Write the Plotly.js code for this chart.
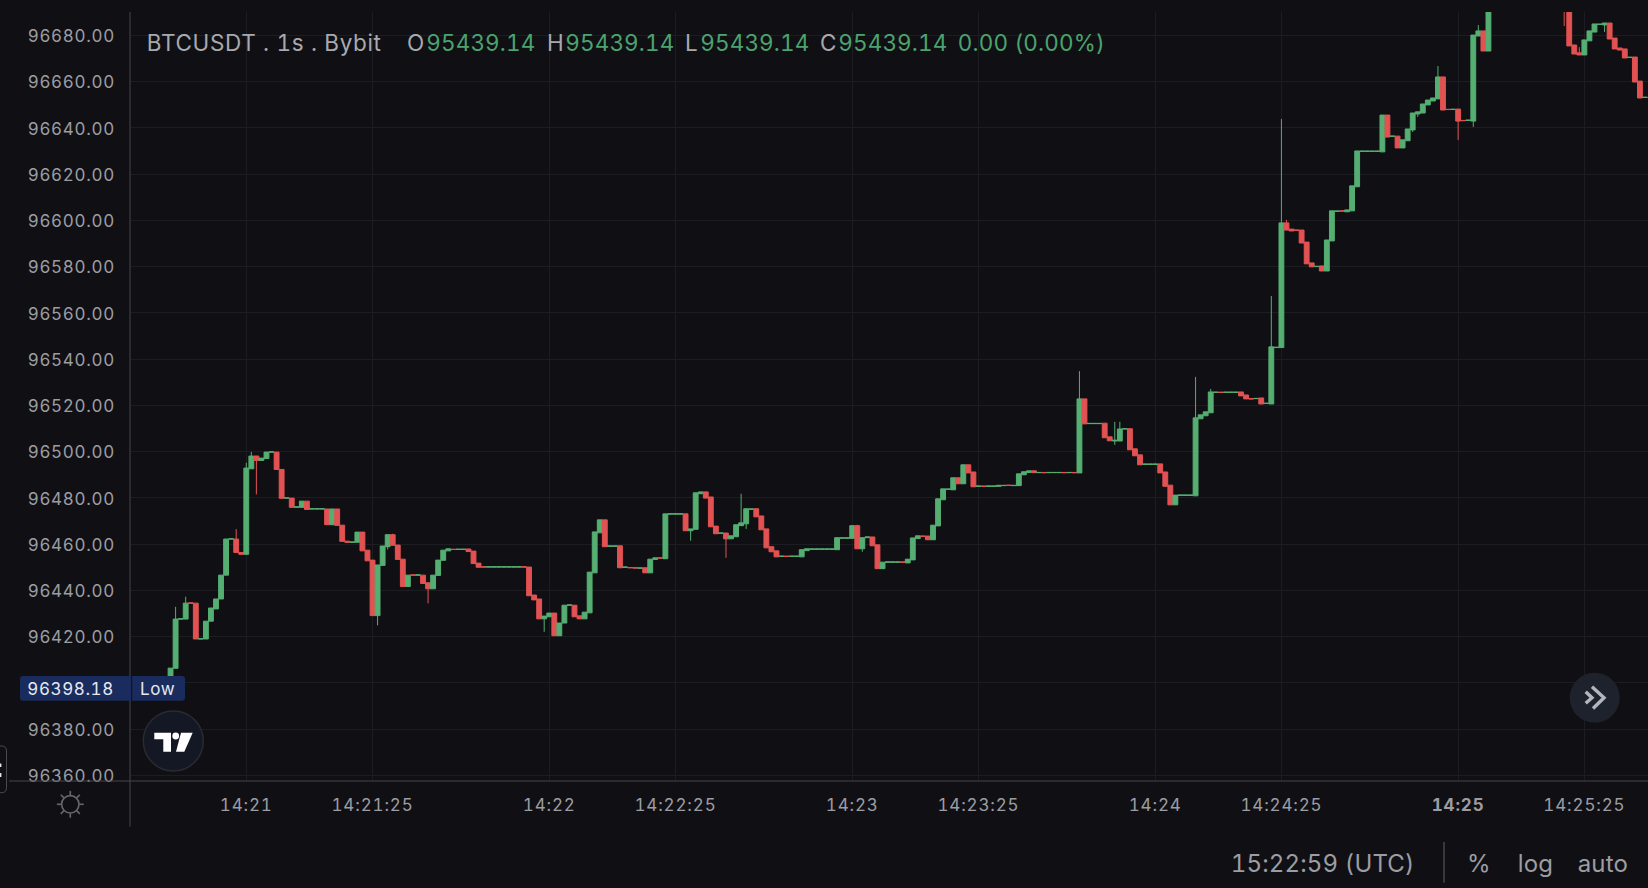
<!DOCTYPE html>
<html>
<head>
<meta charset="utf-8">
<script src="https://cdn.plot.ly/plotly-3.0.1.min.js"></script>
<style>
html,body{margin:0;padding:0;background:#101014;overflow:hidden}
#chart{width:1648px;height:888px}
#chart svg text{font-variant-numeric:tabular-nums;font-feature-settings:'tnum' 1;letter-spacing:.15px}
#chart svg .xtick text{letter-spacing:.85px}
#chart svg .ytick text{letter-spacing:.7px}
#chart svg g.ytick{transform:translateY(.8px)}
#chart svg .annotation[data-index="0"] text{letter-spacing:.65px}
#chart svg .annotation[data-index="10"] text,#chart svg .annotation[data-index="11"] text{letter-spacing:.6px}
</style>
</head>
<body>
<div id="chart"></div>
<script>
// Seconds after 14:21:00 for every visible candle
const seconds = [
-15,-14,-13,-12,-11,-10,-9,-8,-7,-6,
-5,-4,-3,-2,-1,0,1,2,3,4,
5,6,7,8,9,10,11,12,13,14,
15,16,17,18,19,20,21,22,23,24,
25,26,27,28,29,30,31,32,33,34,
35,36,37,38,39,40,41,42,43,44,
45,46,47,48,49,50,51,52,53,54,
55,56,57,58,59,60,61,62,63,64,
65,66,67,68,69,70,71,72,73,74,
75,76,77,78,79,80,81,82,83,84,
85,86,87,88,89,90,91,92,93,94,
95,96,97,98,99,100,101,102,103,104,
105,106,107,108,109,110,111,112,113,114,
115,116,117,118,119,120,121,122,123,124,
125,126,127,128,129,130,131,132,133,134,
135,136,137,138,139,140,141,142,143,144,
145,146,147,148,149,150,151,152,153,154,
155,156,157,158,159,160,161,162,163,164,
165,166,167,168,169,170,171,172,173,174,
175,176,177,178,179,180,181,182,183,184,
185,186,187,188,189,190,191,192,193,194,
195,196,197,198,199,200,201,202,203,204,
205,206,207,208,209,210,211,212,213,214,
215,216,217,218,219,220,221,222,223,224,
225,226,227,228,229,230,231,232,233,234,
235,236,237,238,239,240,241,242,243,244,
245,246,261,262,263,264,265,266,267,268,
269,270,271,272,273,274,275,276,277];

const opens = [
96398.18,96406.3,96427.6,96427.6,96434.6,96434.5,96419.0,96419.0,96426.7,96432.0,
96436.3,96446.6,96462.2,96462.2,96456.4,96455.6,96492.6,96498.1,96496.2,96497.0,
96499.8,96499.8,96492.3,96479.9,96479.9,96476.0,96475.9,96478.6,96475.2,96475.2,
96475.2,96475.2,96468.4,96475.2,96468.2,96461.3,96460.8,96460.8,96465.2,96457.4,
96453.1,96429.1,96450.8,96458.9,96464.1,96459.6,96453.5,96441.7,96446.7,96446.6,
96446.6,96443.3,96440.7,96446.5,96453.0,96457.1,96457.8,96457.7,96457.7,96457.9,
96457.0,96451.8,96450.2,96450.1,96450.1,96450.1,96450.1,96450.1,96450.1,96450.1,
96450.2,96450.1,96438.0,96436.3,96427.7,96428.6,96430.2,96420.4,96425.9,96433.6,
96433.6,96429.0,96427.7,96430.3,96447.6,96464.9,96470.5,96459.1,96459.1,96459.3,
96450.0,96449.9,96449.8,96449.6,96449.8,96447.6,96453.4,96454.1,96453.7,96473.0,
96473.0,96473.0,96473.1,96465.8,96466.4,96481.8,96482.6,96480.4,96467.8,96464.7,
96464.8,96462.3,96463.2,96468.0,96468.8,96475.1,96475.3,96472.2,96466.6,96458.9,
96457.1,96454.7,96454.8,96454.7,96454.7,96454.5,96457.2,96457.8,96457.8,96457.8,
96457.8,96457.8,96457.6,96462.6,96462.6,96462.5,96468.0,96458.0,96462.8,96463.1,
96459.7,96449.4,96452.2,96452.2,96452.2,96452.3,96451.9,96453.2,96462.4,96463.5,
96463.5,96461.9,96467.9,96479.2,96483.7,96483.5,96488.7,96486.1,96494.3,96491.2,
96485.0,96485.1,96485.0,96485.0,96485.0,96485.3,96485.5,96485.3,96485.3,96490.0,
96491.0,96491.7,96490.9,96491.0,96490.9,96490.9,96490.9,96491.0,96490.9,96491.0,
96490.8,96522.8,96512.1,96512.1,96512.1,96512.3,96506.4,96504.6,96504.6,96509.8,
96509.9,96501.2,96498.6,96494.5,96494.5,96494.5,96494.7,96491.2,96485.5,96477.0,
96481.1,96481.1,96481.1,96480.9,96514.2,96515.5,96516.8,96525.6,96525.7,96525.6,
96525.6,96525.6,96525.8,96524.5,96522.9,96522.9,96523.2,96520.8,96520.6,96545.0,
96545.0,96598.9,96596.2,96595.8,96595.8,96590.6,96581.6,96580.0,96580.3,96578.1,
96591.1,96603.9,96604.1,96603.7,96604.1,96614.5,96629.8,96629.8,96629.8,96629.8,
96629.6,96645.5,96636.3,96636.4,96631.3,96634.4,96639.1,96646.0,96646.4,96649.9,
96651.6,96652.5,96662.0,96648.0,96647.9,96648.1,96643.2,96643.2,96642.9,96679.7,
96681.9,96673.2,96708.0,96702.0,96675.8,96672.4,96671.5,96677.6,96681.4,96684.7,
96684.5,96685.3,96678.8,96674.5,96674.1,96670.4,96670.6,96660.2,96653.1];

const closes = [
96406.4,96427.6,96427.7,96434.5,96434.5,96419.0,96419.1,96426.7,96432.4,96436.3,
96446.6,96462.2,96462.3,96456.4,96455.6,96492.9,96498.1,96496.2,96497.2,96499.8,
96499.9,96492.3,96479.8,96480.0,96475.9,96476.1,96478.6,96475.0,96475.3,96475.3,
96475.3,96468.4,96475.2,96468.1,96461.2,96460.8,96460.9,96465.2,96457.1,96452.8,
96429.1,96451.0,96459.2,96464.1,96459.5,96453.4,96441.7,96446.6,96446.6,96446.7,
96443.0,96440.7,96446.6,96453.1,96457.4,96458.0,96457.7,96457.8,96457.8,96456.8,
96451.6,96450.0,96450.1,96450.2,96450.2,96450.2,96450.2,96450.2,96450.2,96450.2,
96450.1,96437.7,96435.9,96427.7,96428.9,96430.2,96420.4,96425.9,96433.6,96433.7,
96428.6,96427.7,96430.6,96447.9,96465.3,96470.5,96458.9,96459.2,96459.2,96449.8,
96450.1,96449.8,96449.7,96449.7,96447.6,96453.5,96454.1,96454.0,96473.1,96473.1,
96473.1,96473.1,96465.8,96466.6,96482.2,96482.6,96479.9,96467.5,96464.5,96464.8,
96462.3,96463.6,96468.4,96469.2,96475.3,96475.2,96471.8,96466.2,96458.4,96456.7,
96454.5,96454.8,96454.7,96454.8,96454.8,96457.6,96458.0,96457.9,96457.9,96457.9,
96457.9,96457.9,96462.8,96462.7,96462.7,96468.0,96458.0,96462.8,96463.1,96459.3,
96449.4,96452.2,96452.3,96452.3,96452.3,96452.2,96453.5,96462.7,96463.6,96463.4,
96461.9,96468.2,96479.6,96483.9,96483.8,96488.7,96486.1,96494.3,96490.8,96484.8,
96485.1,96485.0,96485.1,96485.1,96485.4,96485.4,96485.4,96485.4,96490.4,96491.3,
96491.7,96490.9,96491.0,96490.9,96491.0,96491.0,96491.0,96490.9,96491.0,96490.9,
96522.8,96512.0,96512.2,96512.2,96512.2,96506.0,96504.7,96504.9,96509.8,96509.9,
96500.8,96498.2,96494.3,96494.6,96494.6,96494.6,96490.8,96485.0,96477.0,96481.2,
96481.2,96481.2,96481.2,96514.6,96515.9,96517.2,96525.8,96525.7,96525.6,96525.7,
96525.7,96525.7,96524.1,96522.8,96522.8,96523.0,96520.6,96520.9,96545.3,96545.1,
96598.9,96595.8,96595.4,96595.7,96590.2,96581.2,96579.9,96580.1,96578.1,96591.5,
96604.1,96604.0,96604.0,96604.5,96614.9,96630.0,96629.9,96629.9,96629.9,96629.9,
96645.5,96636.0,96636.4,96631.3,96634.8,96639.5,96646.4,96646.9,96650.3,96652.0,
96652.9,96662.0,96647.7,96647.9,96648.0,96642.9,96643.1,96643.3,96680.1,96681.9,
96673.2,96702.0,96702.0,96675.4,96671.9,96671.5,96678.0,96681.9,96684.9,96684.8,
96685.3,96678.4,96674.1,96673.6,96670.2,96670.5,96659.8,96652.9,96653.2];

// Wicks that stick out of the candle body
const upperWickSeconds = [-14,-12,-2,0,1,29,98,121,165,172,173,188,191,203,205,206,236,244,264];
const upperWickValues  = [96432.9,96437.3,96466.5,96495.2,96499.9,96464.5,96481.8,96468.4,96534.8,96512.9,96512.9,96532.3,96527.1,96567.3,96643.8,96600.2,96666.7,96684.4,96674.9];
const lowerWickSeconds = [2,26,28,36,59,88,95,99,122,172,231,232,240,243,261,269];
const lowerWickValues  = [96481.5,96424.9,96457.7,96434.4,96422.1,96461.5,96454.1,96466.6,96456.7,96502.9,96638.2,96644.7,96634.7,96640.4,96684.0,96681.4];

const priceTicks = [96680,96660,96640,96620,96600,96580,96560,96540,96520,96500,96480,96460,96440,96420,96400,96380,96360];
const timeTickSeconds = [0,25,60,85,120,145,180,205,240,265];
const timeTickLabels = ['14:21','14:21:25','14:22','14:22:25','14:23','14:23:25','14:24','14:24:25','<b>14:25</b>','14:25:25'];
const lowPrice = '96398.18';

const BG='#101014', GRID='#1c1d22', AXIS='#44454a', TXT='#9c9da3', UP='#55ae72', DOWN='#e25252', OHLC='#4ba36f';
const baseMs = Date.UTC(2024,11,6,14,21,0);
const stamp = s => new Date(baseMs + s*1000).toISOString().slice(0,23).replace('T',' ');

const highs = seconds.map((s,i)=>{const k=upperWickSeconds.indexOf(s);return Math.max(opens[i],closes[i],k>=0?upperWickValues[k]:-Infinity);});
const lows  = seconds.map((s,i)=>{const k=lowerWickSeconds.indexOf(s);return Math.min(opens[i],closes[i],k>=0?lowerWickValues[k]:Infinity);});

// Page-pixel helpers for the interface furniture around the plot
const L=130,R=1648,T=12,B=781;
const px=x=>(x-L)/(R-L), py=y=>(B-y)/(B-T);
const P=(x,y)=>px(x)+','+py(y);
const poly=(pts,close)=>'M'+pts.map(p=>P(p[0],p[1])).join('L')+(close?'Z':'');
const rrect=(x0,y0,x1,y1,r)=>'M'+P(x0+r,y0)+'L'+P(x1-r,y0)+'Q'+P(x1,y0)+' '+P(x1,y0+r)+'L'+P(x1,y1-r)+'Q'+P(x1,y1)+' '+P(x1-r,y1)+'L'+P(x0+r,y1)+'Q'+P(x0,y1)+' '+P(x0,y1-r)+'L'+P(x0,y0+r)+'Q'+P(x0,y0)+' '+P(x0+r,y0)+'Z';
const pathShape=(path,fill,line,w)=>({type:'path',xref:'paper',yref:'paper',layer:'above',path,fillcolor:fill||'rgba(0,0,0,0)',line:{color:line||'rgba(0,0,0,0)',width:w||0}});
const circle=(cx,cy,r,fill,line,w)=>({type:'circle',xref:'paper',yref:'paper',layer:'above',x0:px(cx-r),x1:px(cx+r),y0:py(cy+r),y1:py(cy-r),fillcolor:fill||'rgba(0,0,0,0)',line:{color:line||'rgba(0,0,0,0)',width:w||0}});
const seg=(x0,y0,x1,y1,c,w)=>({type:'line',xref:'paper',yref:'paper',layer:'above',x0:px(x0),x1:px(x1),y0:py(y0),y1:py(y1),line:{color:c,width:w}});

const SX=70.3,SY=804.3,SC='#66676c';
const sunRays=[[0,-1],[0,1],[-1,0],[1,0],[-.71,-.71],[.71,-.71],[-.71,.71],[.71,.71]];

const shapes=[
  seg(9,B,R,B,AXIS,1.2),
  seg(L,T,L,826.7,AXIS,1),
  // low tag
  pathShape(rrect(20,676,185,700.7,3),'#1a2c5e'),
  seg(131.7,676,131.7,700.7,BG,1),
  // logo
  circle(173.3,741,30,'#141824','#2a2b30',1.5),
  pathShape(poly([[154.3,732.7],[171,732.7],[171,751.7],[163.3,751.7],[163.3,739.3],[154.3,739.3]],true),'#ffffff'),
  circle(175.7,736,3.4,'#ffffff'),
  pathShape(poly([[181,732.7],[192.7,732.7],[184.3,751.7],[176,751.7]],true),'#ffffff'),
  // scroll-to-latest button
  circle(1594.7,697.7,25,'#1e222d'),
  pathShape(poly([[1592,686.7],[1604,697.7],[1593,708.5]]),null,'#b4b6bd',3.4),
  pathShape(poly([[1585.7,691.7],[1592,697.7],[1585.7,703.3]]),null,'#b4b6bd',3.4),
  // sun icon
  circle(SX,SY,8.7,null,SC,1.6),
  ...sunRays.map(d=>seg(SX+d[0]*9,SY+d[1]*9,SX+d[0]*13.4,SY+d[1]*13.4,SC,1.6)),
  // left handle
  pathShape(rrect(-8,746,6.5,792.7,5),BG,'#4a4b50',1),
  pathShape(rrect(0,763.5,1.4,767,.3),'#e8e8ea'),
  pathShape(rrect(0,773,1.4,777,.3),'#e8e8ea'),
  // bottom divider
  seg(1444,842,1444,882.7,'#45464c',1.5)
];

const note=(text,x,y,size,color)=>({text,xref:'paper',yref:'paper',x:px(x),y:py(y),xanchor:'center',yanchor:'middle',showarrow:false,borderpad:0,font:{family:'Inter, sans-serif',size,color}});
const HDR='#a8a9af', H=22.5, HY=42.5, FOOT='#9c9da3';
const annotations=[
  note('BTCUSDT . 1s . Bybit',264.4,HY,H,HDR),
  note('O',415.1,HY,H,HDR), note('95439.14',480.8,HY,H,OHLC),
  note('H',555,HY,H,HDR), note('95439.14',619.5,HY,H,OHLC),
  note('L',691.6,HY,H,HDR), note('95439.14',755.2,HY,H,OHLC),
  note('C',828.2,HY,H,HDR), note('95439.14',892.8,HY,H,OHLC),
  note('0.00 (0.00%)',1031,HY,H,OHLC),
  note(lowPrice,70.9,688.8,17,'#e6e8ef'),
  note('Low',157.6,688.8,17,'#e6e8ef'),
  note('15:22:59 (UTC)',1322.2,863.5,24,FOOT),
  note('%',1478.7,863.5,24,FOOT),
  note('log',1535,863.5,24,FOOT),
  note('auto',1602.8,863.5,24,FOOT)
];

const trace={
  type:'candlestick',
  x:seconds.map(stamp),open:opens,high:highs,low:lows,close:closes,
  increasing:{line:{color:UP,width:1},fillcolor:UP},
  decreasing:{line:{color:DOWN,width:1},fillcolor:DOWN},
  whiskerwidth:0,hoverinfo:'skip',showlegend:false
};

const layout={
  width:1648,height:888,autosize:false,
  margin:{l:L,r:0,t:T,b:888-B,pad:0},
  paper_bgcolor:BG,plot_bgcolor:BG,showlegend:false,boxgap:0.04,boxgroupgap:0,
  font:{family:'Inter, sans-serif',size:17,color:TXT},
  xaxis:{type:'date',range:[stamp(-23.03),stamp(277.6)],rangeslider:{visible:false},
    tickmode:'array',tickvals:timeTickSeconds.map(stamp),ticktext:timeTickLabels,
    showgrid:true,gridcolor:GRID,gridwidth:1,zeroline:false,showline:false,ticks:'',ticklabelstandoff:12,
    tickfont:{family:'Inter, sans-serif',size:17,color:TXT},tickangle:0,automargin:false},
  yaxis:{range:[96357.6,96690.07],tickmode:'array',tickvals:priceTicks,
    ticktext:priceTicks.map(v=>v===96400?'':v.toFixed(2)),
    showgrid:true,gridcolor:GRID,gridwidth:1,zeroline:false,showline:false,ticks:'',ticklabelstandoff:14,
    tickfont:{family:'Inter, sans-serif',size:17,color:TXT},automargin:false},
  shapes,annotations
};

Plotly.newPlot('chart',[trace],layout,{displayModeBar:false,staticPlot:true});
</script>
</body>
</html>
